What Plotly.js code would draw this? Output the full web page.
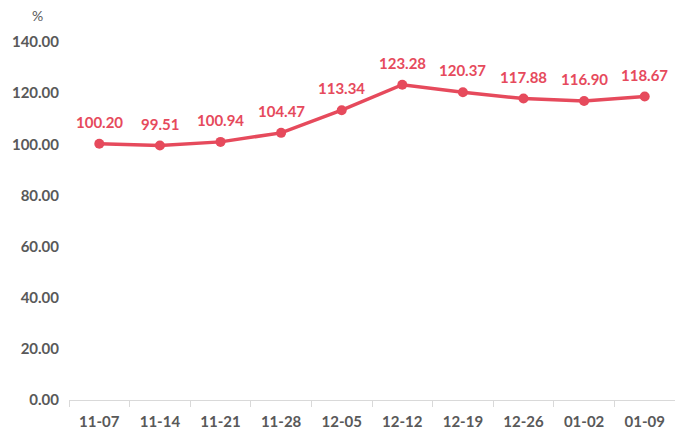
<!DOCTYPE html>
<html><head><meta charset="utf-8">
<script src="https://cdn.plot.ly/plotly-3.0.1.min.js"></script>
<style>html,body{margin:0;padding:0;background:#fff}#c{width:675px;height:438px}</style>
</head><body><div id="c"></div>
<script>
const categories = ["11-07","11-14","11-21","11-28","12-05","12-12","12-19","12-26","01-02","01-09"];
const values = [100.20, 99.51, 100.94, 104.47, 113.34, 123.28, 120.37, 117.88, 116.90, 118.67];
const tickVals = [0,20,40,60,80,100,120,140];
const tickText = tickVals.map(v => v.toFixed(2));
const red = "#E64A5C";
const fontFam = "Lato, 'Open Sans', sans-serif";
const labelAnns = categories.map((c, i) => ({
  x: c, y: values[i], xref: "x", yref: "y", text: values[i].toFixed(2), showarrow: false,
  yshift: 22, xanchor: "center", yanchor: "middle",
  font: {family: fontFam, size: 15, color: red, weight: "bold"}
}));
Plotly.newPlot("c", [{
  x: categories, y: values, type: "scatter", mode: "lines+markers",
  line: {color: red, width: 3.5}, marker: {color: red, size: 10},
  cliponaxis: false, hoverinfo: "none"
}], {
  width: 675, height: 438, margin: {l: 69, r: 0, t: 42, b: 38},
  paper_bgcolor: "#fff", plot_bgcolor: "#fff", showlegend: false,
  font: {family: fontFam},
  xaxis: {type: "category", showgrid: false, showline: true, linecolor: "#d9d9d9", linewidth: 1,
    ticks: "outside", tickson: "boundaries", ticklen: 6, tickcolor: "#d9d9d9", ticklabelstandoff: 8,
    tickfont: {family: fontFam, size: 15, color: "#595959", weight: "bold"}, range: [-0.5, 9.5]},
  yaxis: {range: [0, 140], tickvals: tickVals, ticktext: tickText, showgrid: false, zeroline: false,
    showline: false, ticks: "", ticklabelstandoff: 9,
    tickfont: {family: fontFam, size: 15, color: "#595959", weight: "bold"}},
  annotations: labelAnns.concat([{text: "%", xref: "paper", yref: "paper", x: -0.052, y: 1, yshift: 27, xanchor: "center", yanchor: "middle",
    showarrow: false, font: {family: fontFam, size: 14, color: "#595959"}}])
}, {staticPlot: true});
</script></body></html>
